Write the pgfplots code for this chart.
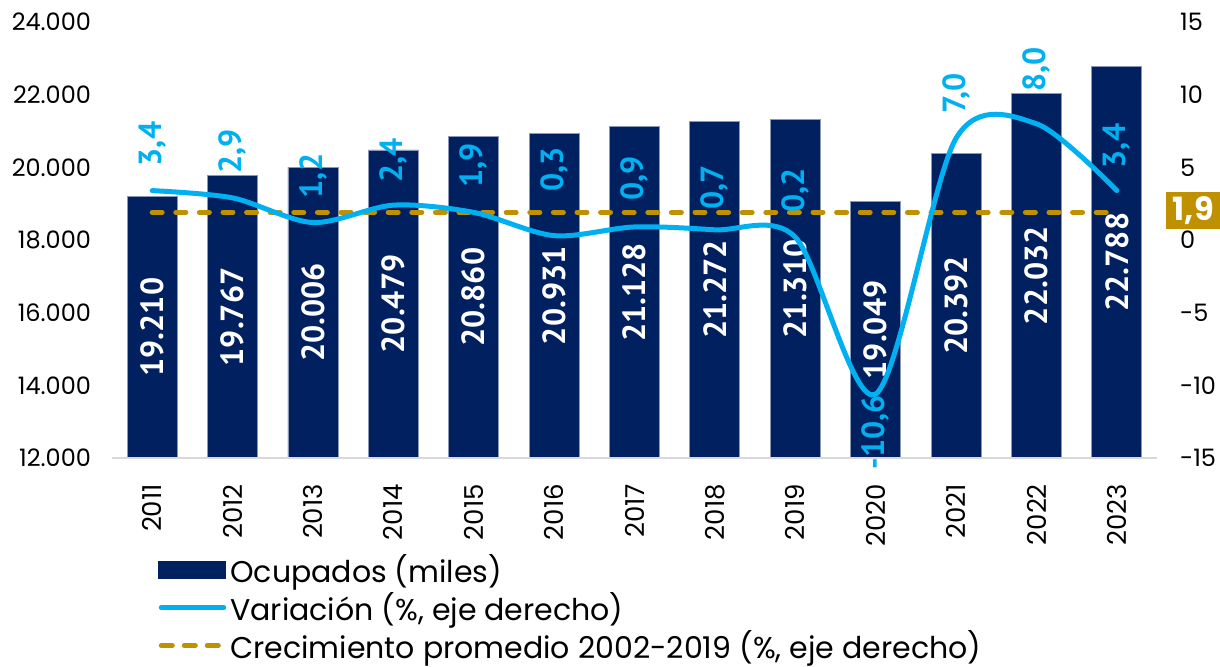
\documentclass[border=0pt]{standalone}
\usepackage{pgfplots}
\pgfplotsset{compat=1.18}
\usepackage{pgfplotstable}
\usepackage{fontspec}
\setmainfont{Poppins}
\newfontfamily\dinfont{PT Sans}

\definecolor{navy}{HTML}{002060}
\definecolor{cyanx}{HTML}{00B0F0}
\definecolor{goldx}{HTML}{BF9000}
\definecolor{edgex}{HTML}{8A97B5}
\definecolor{axisgray}{HTML}{D9D9D9}

% ocupados (miles)
\pgfplotstableread{
x ocu lab
0 19210 19.210
1 19767 19.767
2 20006 20.006
3 20479 20.479
4 20860 20.860
5 20931 20.931
6 21128 21.128
7 21272 21.272
8 21310 21.310
9 19049 19.049
10 20392 20.392
11 22032 22.032
12 22788 22.788
}\ocupados

% variacion anual (%), gap = distancia de la etiqueta (pt)
\pgfplotstableread{
x var lab gap
0 3.4 3,4 12
1 2.9 2,9 12
2 1.2 1,2 12
3 2.4 2,4 11
4 1.9 1,9 12
5 0.3 0,3 22
6 0.9 0,9 13
7 0.7 0,7 10
8 0.2 0,2 12
9 -10.6 -10,6 0.5
10 7.0 7,0 12
11 8.0 8,0 16
12 3.4 3,4 11
}\variacion

\pgfplotstableread{
x prom
0 1.9
1 1.9
2 1.9
3 1.9
4 1.9
5 1.9
6 1.9
7 1.9
8 1.9
9 1.9
10 1.9
11 1.9
12 1.9
}\promedio

\tikzset{lab/.style={font=\dinfont\bfseries\fontsize{16}{16}\selectfont}}

\begin{document}
\begin{tikzpicture}
\pgfplotsset{
  base/.style={
    width=522.5pt, height=218pt, scale only axis,
    xmin=-0.5, xmax=12.5,
    major tick length=0pt,
    tick label style={font=\fontsize{12}{13}\selectfont},
    /pgf/number format/assume math mode=true,
  },
  varlab/.style={draw=none, mark=none, forget plot,
    nodes near coords, point meta=explicit symbolic,
    visualization depends on={\thisrow{gap} \as \gap},
    every node near coord/.append style={rotate=90, anchor=#1, text=cyanx, lab,
      inner xsep=\gap pt, inner ysep=0pt}},
}
% eje izquierdo: barras
\begin{axis}[base,
  ymin=12000, ymax=24000,
  ytick={12000,14000,...,24000},
  scaled y ticks=false,
  /pgf/number format/fixed,
  /pgf/number format/1000 sep={.},
  xtick={0,...,12},
  xticklabels={2011,2012,2013,2014,2015,2016,2017,2018,2019,2020,2021,2022,2023},
  xticklabel shift=9.5pt,
  xticklabel style={rotate=90, anchor=east, font=\fontsize{13}{14}\selectfont},
  yticklabel style={xshift=-7pt},
  axis line style={draw=none},
]
\addplot[ybar, bar width=25pt, fill=navy, draw=edgex, line width=0.4pt]
  table[x=x, y=ocu]{\ocupados};
\addplot[draw=none, mark=none, nodes near coords, point meta=explicit symbolic,
  every node near coord/.append style={rotate=90, anchor=center, text=white, lab}]
  table[x=x, y expr=(\thisrow{ocu}+12000)/2, meta=lab]{\ocupados};
\draw[axisgray, line width=1pt] (rel axis cs:0,0) -- (rel axis cs:1,0);
\end{axis}

% eje derecho: variacion
\begin{axis}[base,
  ymin=-15, ymax=15,
  ytick={-15,-10,...,15},
  hide x axis,
  axis y line*=right,
  y axis line style={draw=none},
  yticklabel style={anchor=west, xshift=8pt},
  clip=false,
  legend style={at={(0.044,-0.211)}, anchor=north west, draw=none, fill=none,
    font=\fontsize{15}{18}\selectfont, inner sep=0pt, row sep=-0.6pt},
  legend cell align=left,
]
\addplot[goldx, line width=2.5pt, line cap=round, dash pattern=on 5pt off 6.8pt, forget plot]
  table[x=x, y=prom]{\promedio};
\addplot[cyanx, line width=2.5pt, line cap=round, smooth, tension=0.5, forget plot]
  table[x=x, y=var]{\variacion};
\addplot[varlab=west, restrict y to domain=0:20] table[x=x, y=var, meta=lab]{\variacion};
\addplot[varlab=east, restrict y to domain=-20:0] table[x=x, y=var, meta=lab]{\variacion};
\node[anchor=west, fill=goldx, text=white, font=\bfseries\fontsize{16}{16}\selectfont,
  minimum height=18.5pt, minimum width=27pt, inner xsep=2pt, inner ysep=0pt]
  at (axis cs:12.5,1.9) [xshift=4.5pt, yshift=1pt] {1,9};
\addlegendimage{legend image code/.code={\fill[navy] (0pt,-4.25pt) rectangle (33.5pt,4.25pt);}}
\addlegendentry{Ocupados (miles)}
\addlegendimage{legend image code/.code={\draw[cyanx, line width=2.5pt, line cap=round] (1.25pt,0pt) -- (32.5pt,0pt);}}
\addlegendentry{Variación (\%, eje derecho)}
\addlegendimage{legend image code/.code={\draw[goldx, line width=2.5pt, line cap=round, dash pattern=on 5.5pt off 6pt] (1.25pt,0pt) -- (30.5pt,0pt);}}
\addlegendentry{Crecimiento promedio 2002-2019 (\%, eje derecho)}
\end{axis}
\pgfresetboundingbox
\path[use as bounding box] (-56pt,-104pt) rectangle (554pt,229pt);
\end{tikzpicture}
\end{document}
